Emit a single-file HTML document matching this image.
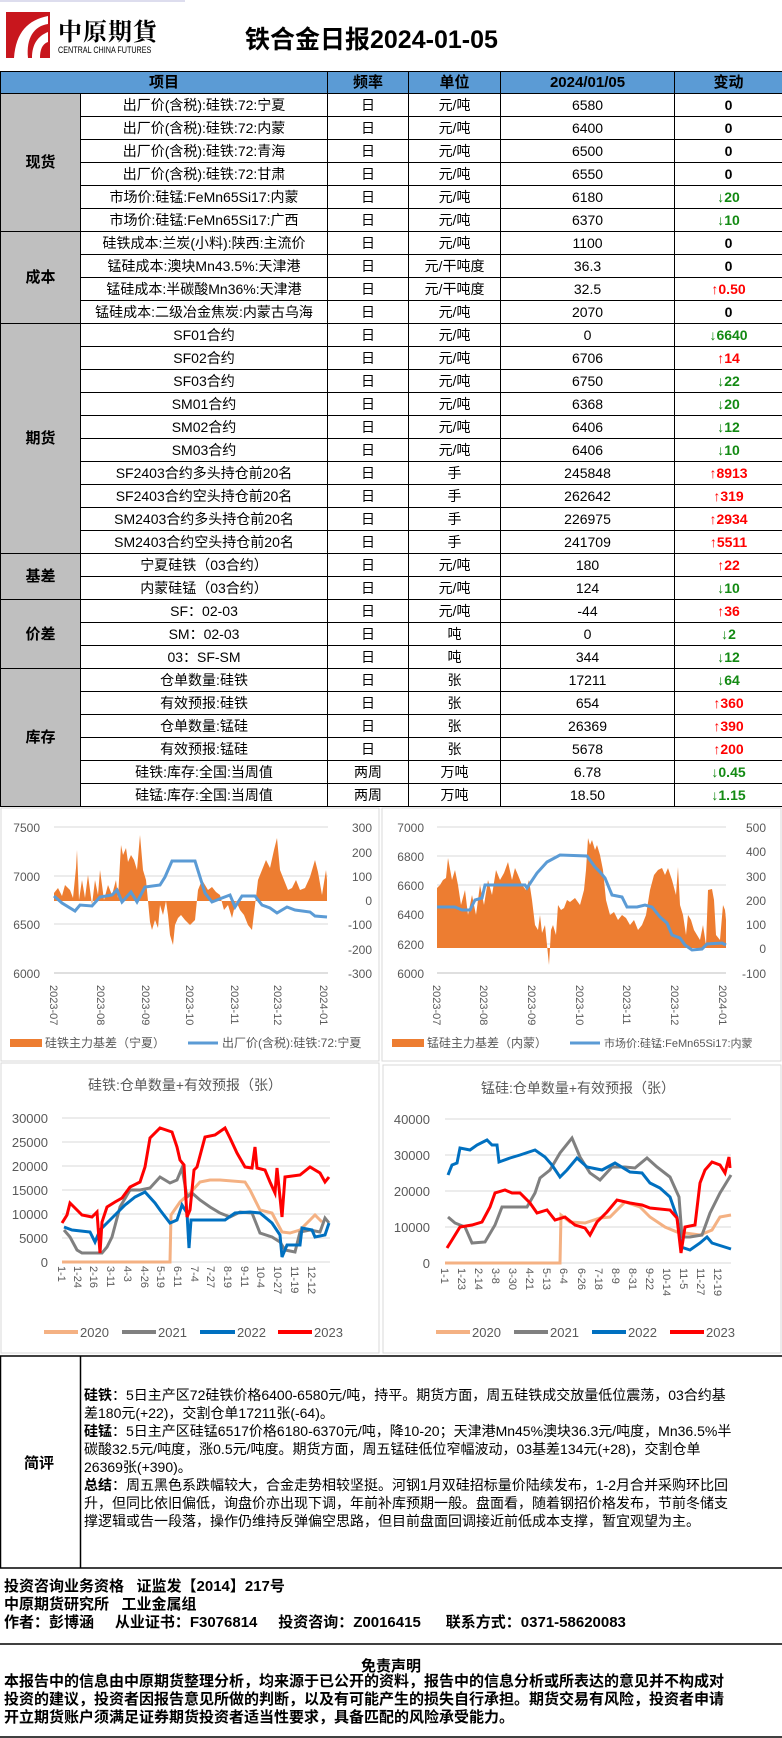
<!DOCTYPE html>
<html><head><meta charset="utf-8">
<style>
*{margin:0;padding:0;box-sizing:border-box}
body{width:782px;height:1738px;background:#fff;font-family:"Liberation Sans","Noto Sans CJK SC",sans-serif;position:relative;overflow:hidden;color:#000}
.abs{position:absolute}
table{border-collapse:collapse;position:absolute;left:0;top:71px;width:782px;table-layout:fixed}
td{border:1px solid #000;height:23px;font-size:14px;text-align:center;white-space:nowrap;overflow:hidden;padding:0;line-height:21px}
tr.h td{background:#5B9BD5;font-weight:bold;height:22px;font-size:15px}
td.c{background:#BFBFBF;font-weight:bold;font-size:15px}
.g{color:#138a13;font-weight:bold}
.r{color:#f00;font-weight:bold}
.b{font-weight:bold}
.txt{font-size:14px;line-height:18px;white-space:nowrap}
</style></head><body>
<!-- header -->
<div class="abs" style="left:0;top:0;width:185px;height:71px;background:#fff;border-top:2px solid #dde"></div>
<svg class="abs" style="left:6px;top:12px" width="44" height="48"><rect x="0" y="0" width="44" height="46" fill="#c8161d"/><path d="M8 46 C10 20 22 8 42 4 L42 12 C28 14 20 26 22 46 Z" fill="#fff"/><path d="M26 46 C26 32 32 24 42 20 L42 30 C36 32 34 38 34 46Z" fill="#fff"/></svg>
<div class="abs b" style="left:58px;top:12px;font-size:24px;letter-spacing:1px;font-family:'Noto Serif CJK SC',serif">中原期貨</div>
<div class="abs" style="left:58px;top:45px;font-size:9px;transform:scaleX(0.8);transform-origin:left">CENTRAL CHINA FUTURES</div>
<div class="abs b" style="left:245px;top:20px;font-size:25px">铁合金日报2024-01-05</div>
<table>
<colgroup><col style="width:80px"><col style="width:247px"><col style="width:81px"><col style="width:92px"><col style="width:174px"><col style="width:108px"></colgroup>
<tr class="h"><td colspan="2">项目</td><td>频率</td><td>单位</td><td>2024/01/05</td><td>变动</td></tr>
<tr><td class="c" rowspan="6">现货</td><td>出厂价(含税):硅铁:72:宁夏</td><td>日</td><td>元/吨</td><td>6580</td><td class="b">0</td></tr>
<tr><td>出厂价(含税):硅铁:72:内蒙</td><td>日</td><td>元/吨</td><td>6400</td><td class="b">0</td></tr>
<tr><td>出厂价(含税):硅铁:72:青海</td><td>日</td><td>元/吨</td><td>6500</td><td class="b">0</td></tr>
<tr><td>出厂价(含税):硅铁:72:甘肃</td><td>日</td><td>元/吨</td><td>6550</td><td class="b">0</td></tr>
<tr><td>市场价:硅锰:FeMn65Si17:内蒙</td><td>日</td><td>元/吨</td><td>6180</td><td class="g">↓20</td></tr>
<tr><td>市场价:硅锰:FeMn65Si17:广西</td><td>日</td><td>元/吨</td><td>6370</td><td class="g">↓10</td></tr>
<tr><td class="c" rowspan="4">成本</td><td>硅铁成本:兰炭(小料):陕西:主流价</td><td>日</td><td>元/吨</td><td>1100</td><td class="b">0</td></tr>
<tr><td>锰硅成本:澳块Mn43.5%:天津港</td><td>日</td><td>元/干吨度</td><td>36.3</td><td class="b">0</td></tr>
<tr><td>锰硅成本:半碳酸Mn36%:天津港</td><td>日</td><td>元/干吨度</td><td>32.5</td><td class="r">↑0.50</td></tr>
<tr><td>锰硅成本:二级冶金焦炭:内蒙古乌海</td><td>日</td><td>元/吨</td><td>2070</td><td class="b">0</td></tr>
<tr><td class="c" rowspan="10">期货</td><td>SF01合约</td><td>日</td><td>元/吨</td><td>0</td><td class="g">↓6640</td></tr>
<tr><td>SF02合约</td><td>日</td><td>元/吨</td><td>6706</td><td class="r">↑14</td></tr>
<tr><td>SF03合约</td><td>日</td><td>元/吨</td><td>6750</td><td class="g">↓22</td></tr>
<tr><td>SM01合约</td><td>日</td><td>元/吨</td><td>6368</td><td class="g">↓20</td></tr>
<tr><td>SM02合约</td><td>日</td><td>元/吨</td><td>6406</td><td class="g">↓12</td></tr>
<tr><td>SM03合约</td><td>日</td><td>元/吨</td><td>6406</td><td class="g">↓10</td></tr>
<tr><td>SF2403合约多头持仓前20名</td><td>日</td><td>手</td><td>245848</td><td class="r">↑8913</td></tr>
<tr><td>SF2403合约空头持仓前20名</td><td>日</td><td>手</td><td>262642</td><td class="r">↑319</td></tr>
<tr><td>SM2403合约多头持仓前20名</td><td>日</td><td>手</td><td>226975</td><td class="r">↑2934</td></tr>
<tr><td>SM2403合约空头持仓前20名</td><td>日</td><td>手</td><td>241709</td><td class="r">↑5511</td></tr>
<tr><td class="c" rowspan="2">基差</td><td>宁夏硅铁（03合约）</td><td>日</td><td>元/吨</td><td>180</td><td class="r">↑22</td></tr>
<tr><td>内蒙硅锰（03合约）</td><td>日</td><td>元/吨</td><td>124</td><td class="g">↓10</td></tr>
<tr><td class="c" rowspan="3">价差</td><td>SF：02-03</td><td>日</td><td>元/吨</td><td>-44</td><td class="r">↑36</td></tr>
<tr><td>SM：02-03</td><td>日</td><td>吨</td><td>0</td><td class="g">↓2</td></tr>
<tr><td>03：SF-SM</td><td>日</td><td>吨</td><td>344</td><td class="g">↓12</td></tr>
<tr><td class="c" rowspan="6">库存</td><td>仓单数量:硅铁</td><td>日</td><td>张</td><td>17211</td><td class="g">↓64</td></tr>
<tr><td>有效预报:硅铁</td><td>日</td><td>张</td><td>654</td><td class="r">↑360</td></tr>
<tr><td>仓单数量:锰硅</td><td>日</td><td>张</td><td>26369</td><td class="r">↑390</td></tr>
<tr><td>有效预报:锰硅</td><td>日</td><td>张</td><td>5678</td><td class="r">↑200</td></tr>
<tr><td>硅铁:库存:全国:当周值</td><td>两周</td><td>万吨</td><td>6.78</td><td class="g">↓0.45</td></tr>
<tr><td>硅锰:库存:全国:当周值</td><td>两周</td><td>万吨</td><td>18.50</td><td class="g">↓1.15</td></tr>
</table>

<svg class="abs" style="left:0;top:0" width="782" height="1738" font-family="Liberation Sans, Noto Sans CJK SC, sans-serif" font-size="12" fill="#595959">
<!-- panel borders -->
<rect x="1" y="808" width="378" height="253" fill="none" stroke="#d9d9d9"/>
<rect x="382" y="808" width="399" height="253" fill="none" stroke="#d9d9d9"/>
<rect x="1" y="1063" width="378" height="290" fill="none" stroke="#d9d9d9"/>
<rect x="383" y="1065" width="398" height="288" fill="none" stroke="#d9d9d9"/>

<!-- chart1 -->
<g stroke="#d9d9d9"><line x1="54" y1="827" x2="328" y2="827"/><line x1="54" y1="876" x2="328" y2="876"/><line x1="54" y1="924" x2="328" y2="924"/><line x1="54" y1="973" x2="328" y2="973"/></g>
<g text-anchor="end"><text x="40" y="832">7500</text><text x="40" y="881">7000</text><text x="40" y="929">6500</text><text x="40" y="978">6000</text></g>
<g text-anchor="end"><text x="372" y="832">300</text><text x="372" y="857">200</text><text x="372" y="881">100</text><text x="372" y="905">0</text><text x="372" y="929">-100</text><text x="372" y="954">-200</text><text x="372" y="978">-300</text></g>
<polygon fill="#ED7D31" points="54,901 54,893 58,888 62,896 65,885 70,890 73,898 76,868 77,850 79,900 82,880 85,898 88,875 92,905 95,880 98,895 100,870 104,900 108,885 112,895 116,880 118,898 121,845 123,855 126,848 128,862 131,855 134,860 137,870 140,835 143,870 146,880 148,901 150,922 152,930 155,920 158,928 160,905 163,915 166,901 168,915 170,935 173,945 175,925 178,918 181,915 185,920 190,925 195,920 198,890 202,880 205,885 208,890 212,887 216,892 220,895 224,910 228,905 232,918 236,901 240,910 244,915 248,925 252,930 256,897 258,880 262,870 266,860 270,868 274,850 277,838 280,870 284,880 288,890 292,888 296,880 300,890 305,888 310,877 315,860 318,872 322,895 326,870 327,880 327,901"/>
<polyline fill="none" stroke="#5B9BD5" stroke-width="3" points="54,896 62,903 75,911 80,905 92,906 100,897 112,895 117,890 122,902 131,892 137,902 145,887 160,885 165,877 172,861 195,861 200,877 205,893 212,902 222,898 230,895 235,907 242,896 255,896 262,905 270,908 277,913 287,907 295,910 310,912 315,916 327,917"/>
<line x1="54" y1="973" x2="328" y2="973" stroke="#bfbfbf"/>
<g font-size="11">
<text transform="translate(50,985) rotate(90)">2023-07</text><text transform="translate(97,985) rotate(90)">2023-08</text><text transform="translate(142,985) rotate(90)">2023-09</text><text transform="translate(186,985) rotate(90)">2023-10</text><text transform="translate(231,985) rotate(90)">2023-11</text><text transform="translate(274,985) rotate(90)">2023-12</text><text transform="translate(320,985) rotate(90)">2024-01</text>
</g>
<rect x="10" y="1039" width="32" height="8" fill="#ED7D31"/><text x="45" y="1047">硅铁主力基差（宁夏）</text>
<line x1="188" y1="1043" x2="218" y2="1043" stroke="#5B9BD5" stroke-width="3"/><text x="222" y="1047">出厂价(含税):硅铁:72:宁夏</text>

<!-- chart2 -->
<g stroke="#d9d9d9"><line x1="437" y1="827" x2="726" y2="827"/><line x1="437" y1="856" x2="726" y2="856"/><line x1="437" y1="885" x2="726" y2="885"/><line x1="437" y1="914" x2="726" y2="914"/><line x1="437" y1="944" x2="726" y2="944"/><line x1="437" y1="973" x2="726" y2="973"/></g>
<g text-anchor="end"><text x="424" y="832">7000</text><text x="424" y="861">6800</text><text x="424" y="890">6600</text><text x="424" y="919">6400</text><text x="424" y="949">6200</text><text x="424" y="978">6000</text></g>
<g text-anchor="end"><text x="766" y="832">500</text><text x="766" y="856">400</text><text x="766" y="881">300</text><text x="766" y="905">200</text><text x="766" y="929">100</text><text x="766" y="953">0</text><text x="766" y="978">-100</text></g>
<polygon fill="#ED7D31" points="437,948 437,888 440,885 443,880 446,878 448,858 452,880 455,870 458,885 461,905 465,890 468,915 472,895 476,915 480,885 484,905 488,880 492,895 496,870 500,880 504,873 508,862 512,880 515,868 518,875 522,885 526,890 529,880 532,900 535,925 538,930 540,915 542,933 545,925 547,945 549,965 551,930 553,925 556,935 558,905 561,910 564,908 567,900 570,902 575,898 580,905 584,890 586,870 588,838 590,845 592,840 595,850 597,845 600,855 603,870 606,900 610,915 614,912 618,920 622,915 626,918 630,925 634,920 638,930 642,925 646,915 650,890 654,875 658,870 662,868 665,875 668,868 672,880 676,895 678,867 680,905 683,915 686,935 688,915 691,920 694,930 697,935 700,940 703,925 706,945 708,890 712,889 714,900 716,935 720,940 723,905 725,910 726,920 726,948"/>
<polyline fill="none" stroke="#5B9BD5" stroke-width="3" points="437,907 455,907 462,910 470,910 475,900 482,898 485,885 525,885 527,888 537,873 547,862 560,855 587,856 595,867 600,872 605,878 612,895 622,897 627,907 637,907 645,905 652,907 660,917 667,923 672,935 680,938 685,945 692,950 702,949 707,944 722,943 726,945"/>
<line x1="437" y1="973" x2="726" y2="973" stroke="#bfbfbf"/>
<g font-size="11">
<text transform="translate(433,985) rotate(90)">2023-07</text><text transform="translate(480,985) rotate(90)">2023-08</text><text transform="translate(528,985) rotate(90)">2023-09</text><text transform="translate(576,985) rotate(90)">2023-10</text><text transform="translate(623,985) rotate(90)">2023-11</text><text transform="translate(671,985) rotate(90)">2023-12</text><text transform="translate(719,985) rotate(90)">2024-01</text>
</g>
<rect x="392" y="1039" width="32" height="8" fill="#ED7D31"/><text x="427" y="1047">锰硅主力基差（内蒙）</text>
<line x1="570" y1="1043" x2="600" y2="1043" stroke="#5B9BD5" stroke-width="3"/><text x="604" y="1047" font-size="11">市场价:硅锰:FeMn65Si17:内蒙</text>

<!-- chart3 -->
<text x="185" y="1090" text-anchor="middle" font-size="14">硅铁:仓单数量+有效预报（张）</text>
<g stroke="#d9d9d9"><line x1="62" y1="1118" x2="330" y2="1118"/><line x1="62" y1="1142" x2="330" y2="1142"/><line x1="62" y1="1166" x2="330" y2="1166"/><line x1="62" y1="1190" x2="330" y2="1190"/><line x1="62" y1="1214" x2="330" y2="1214"/><line x1="62" y1="1238" x2="330" y2="1238"/><line x1="62" y1="1262" x2="330" y2="1262"/></g>
<g text-anchor="end" font-size="13"><text x="48" y="1123">30000</text><text x="48" y="1147">25000</text><text x="48" y="1171">20000</text><text x="48" y="1195">15000</text><text x="48" y="1219">10000</text><text x="48" y="1243">5000</text><text x="48" y="1267">0</text></g>
<g fill="none" stroke-width="3">
<polyline stroke="#F4B183" points="62,1262 170,1262 171,1215 180,1202 190,1193 200,1182 210,1180 220,1180 245,1182 250,1190 260,1210 272,1213 282,1232 290,1233 300,1230 315,1215 322,1222"/>
<polyline stroke="#808080" points="64,1230 70,1237 77,1250 82,1253 102,1253 107,1247 112,1237 120,1207 130,1190 140,1190 150,1188 160,1177 170,1183 177,1180 182,1168 187,1197 192,1193 200,1200 210,1207 220,1213 230,1217 240,1212 252,1213 260,1233 272,1237 280,1242 285,1250 295,1252 300,1232 310,1230 320,1232 325,1218 329,1223"/>
<polyline stroke="#0070C0" points="64,1227 72,1230 90,1232 95,1242 100,1230 107,1223 115,1215 125,1205 135,1197 145,1192 155,1203 160,1210 170,1223 177,1220 182,1205 187,1213 189,1248 191,1220 200,1220 225,1220 235,1213 250,1212 260,1213 272,1223 280,1235 282,1257 287,1245 300,1245 302,1228 312,1230 315,1237 325,1235 329,1223"/>
<polyline stroke="#FF0000" points="62,1223 67,1215 70,1203 75,1208 82,1215 92,1217 97,1212 100,1253 102,1222 107,1207 115,1202 122,1198 130,1187 140,1182 145,1167 150,1138 160,1128 172,1132 177,1147 180,1160 184,1165 187,1217 190,1210 194,1170 197,1167 205,1137 215,1135 225,1128 230,1138 237,1153 245,1167 252,1168 255,1147 257,1168 265,1170 270,1182 275,1193 277,1168 282,1217 285,1177 300,1175 310,1167 320,1173 325,1182 329,1177"/>
</g>
<g font-size="11">
<text transform="translate(58,1266) rotate(90)">1-1</text><text transform="translate(74,1266) rotate(90)">1-24</text><text transform="translate(90,1266) rotate(90)">2-16</text><text transform="translate(107,1266) rotate(90)">3-11</text><text transform="translate(124,1266) rotate(90)">4-3</text><text transform="translate(141,1266) rotate(90)">4-26</text><text transform="translate(157,1266) rotate(90)">5-19</text><text transform="translate(174,1266) rotate(90)">6-11</text><text transform="translate(191,1266) rotate(90)">7-4</text><text transform="translate(207,1266) rotate(90)">7-27</text><text transform="translate(224,1266) rotate(90)">8-19</text><text transform="translate(241,1266) rotate(90)">9-11</text><text transform="translate(257,1266) rotate(90)">10-4</text><text transform="translate(274,1266) rotate(90)">10-27</text><text transform="translate(291,1266) rotate(90)">11-19</text><text transform="translate(308,1266) rotate(90)">12-12</text>
</g>
<g stroke-width="4"><line x1="44" y1="1332" x2="78" y2="1332" stroke="#F4B183"/><line x1="122" y1="1332" x2="156" y2="1332" stroke="#808080"/><line x1="200" y1="1332" x2="235" y2="1332" stroke="#0070C0"/><line x1="278" y1="1332" x2="312" y2="1332" stroke="#FF0000"/></g>
<g font-size="13"><text x="80" y="1337">2020</text><text x="158" y="1337">2021</text><text x="237" y="1337">2022</text><text x="314" y="1337">2023</text></g>

<!-- chart4 -->
<text x="578" y="1093" text-anchor="middle" font-size="14">锰硅:仓单数量+有效预报（张）</text>
<g stroke="#d9d9d9"><line x1="445" y1="1119" x2="731" y2="1119"/><line x1="445" y1="1155" x2="731" y2="1155"/><line x1="445" y1="1191" x2="731" y2="1191"/><line x1="445" y1="1227" x2="731" y2="1227"/><line x1="445" y1="1263" x2="731" y2="1263"/></g>
<g text-anchor="end" font-size="13"><text x="430" y="1124">40000</text><text x="430" y="1160">30000</text><text x="430" y="1196">20000</text><text x="430" y="1232">10000</text><text x="430" y="1268">0</text></g>
<g fill="none" stroke-width="3">
<polyline stroke="#F4B183" points="445,1263 560,1263 561,1215 570,1222 585,1223 600,1218 610,1217 625,1202 640,1207 650,1217 665,1227 677,1232 685,1233 700,1235 712,1230 720,1217 731,1215"/>
<polyline stroke="#808080" points="448,1217 455,1223 465,1227 472,1243 485,1242 495,1225 502,1207 515,1207 527,1207 535,1193 540,1178 550,1170 560,1153 572,1138 580,1157 590,1173 600,1180 612,1167 625,1167 635,1168 647,1158 657,1167 670,1177 679,1197 682,1237 690,1237 702,1235 710,1213 720,1193 731,1175"/>
<polyline stroke="#0070C0" points="448,1175 452,1165 457,1163 460,1148 470,1150 477,1145 487,1140 492,1145 497,1145 499,1162 510,1158 520,1155 535,1150 545,1157 552,1165 560,1177 567,1170 577,1158 587,1167 602,1170 615,1163 630,1172 642,1173 650,1183 660,1188 670,1197 677,1217 681,1247 690,1250 700,1243 707,1237 712,1243 731,1249"/>
<polyline stroke="#FF0000" points="447,1248 452,1240 460,1227 472,1225 482,1222 490,1207 495,1193 505,1190 512,1193 520,1193 530,1203 537,1213 547,1210 555,1220 565,1217 575,1225 585,1228 590,1235 597,1222 607,1212 617,1200 630,1203 642,1205 650,1208 670,1210 677,1218 681,1253 685,1227 695,1225 700,1183 705,1170 712,1162 720,1165 725,1173 729,1157 730,1168"/>
</g>
<g font-size="11">
<text transform="translate(441,1268) rotate(90)">1-1</text><text transform="translate(458,1268) rotate(90)">1-23</text><text transform="translate(475,1268) rotate(90)">2-14</text><text transform="translate(492,1268) rotate(90)">3-8</text><text transform="translate(509,1268) rotate(90)">3-30</text><text transform="translate(526,1268) rotate(90)">4-21</text><text transform="translate(543,1268) rotate(90)">5-13</text><text transform="translate(560,1268) rotate(90)">6-4</text><text transform="translate(578,1268) rotate(90)">6-26</text><text transform="translate(595,1268) rotate(90)">7-18</text><text transform="translate(612,1268) rotate(90)">8-9</text><text transform="translate(629,1268) rotate(90)">8-31</text><text transform="translate(646,1268) rotate(90)">9-22</text><text transform="translate(663,1268) rotate(90)">10-14</text><text transform="translate(680,1268) rotate(90)">11-5</text><text transform="translate(697,1268) rotate(90)">11-27</text><text transform="translate(714,1268) rotate(90)">12-19</text>
</g>
<g stroke-width="4"><line x1="436" y1="1332" x2="470" y2="1332" stroke="#F4B183"/><line x1="514" y1="1332" x2="548" y2="1332" stroke="#808080"/><line x1="592" y1="1332" x2="626" y2="1332" stroke="#0070C0"/><line x1="670" y1="1332" x2="704" y2="1332" stroke="#FF0000"/></g>
<g font-size="13"><text x="472" y="1337">2020</text><text x="550" y="1337">2021</text><text x="628" y="1337">2022</text><text x="706" y="1337">2023</text></g>

<!-- comment box borders -->
<g stroke="#000" stroke-width="1.5" fill="none">
<line x1="0" y1="1356" x2="782" y2="1356"/>
<line x1="80.5" y1="1356" x2="80.5" y2="1568"/>
<line x1="0" y1="1568" x2="782" y2="1568"/>
<line x1="0" y1="1644" x2="782" y2="1644"/>
<line x1="0" y1="1737" x2="782" y2="1737"/>
<line x1="0.5" y1="1356" x2="0.5" y2="1568"/>
</g>
</svg>

<div class="abs b" style="left:24px;top:1452px;font-size:15px">简评</div>
<div class="abs txt" style="left:84px;top:1386px">
<b>硅铁</b>：5日主产区72硅铁价格6400-6580元/吨，持平。期货方面，周五硅铁成交放量低位震荡，03合约基<br>
差180元(+22)，交割仓单17211张(-64)。<br>
<b>硅锰</b>：5日主产区硅锰6517价格6180-6370元/吨，降10-20；天津港Mn45%澳块36.3元/吨度，Mn36.5%半<br>
碳酸32.5元/吨度，涨0.5元/吨度。期货方面，周五锰硅低位窄幅波动，03基差134元(+28)，交割仓单<br>
26369张(+390)。<br>
<b>总结</b>：周五黑色系跌幅较大，合金走势相较坚挺。河钢1月双硅招标量价陆续发布，1-2月合并采购环比回<br>
升，但同比依旧偏低，询盘价亦出现下调，年前补库预期一般。盘面看，随着钢招价格发布，节前冬储支<br>
撑逻辑或告一段落，操作仍维持反弹偏空思路，但目前盘面回调接近前低成本支撑，暂宜观望为主。
</div>
<div class="abs b" style="left:4px;top:1578px;font-size:15px;line-height:18px;white-space:pre">投资咨询业务资格   证监发【2014】217号
中原期货研究所   工业金属组
作者：彭博涵     从业证书：F3076814     投资咨询：Z0016415      联系方式：0371-58620083</div>
<div class="abs b" style="left:0;width:782px;top:1655px;font-size:15px;text-align:center">免责声明</div>
<div class="abs b" style="left:4px;top:1673px;font-size:15px;line-height:18px;white-space:nowrap">本报告中的信息由中原期货整理分析，均来源于已公开的资料，报告中的信息分析或所表达的意见并不构成对<br>投资的建议，投资者因报告意见所做的判断，以及有可能产生的损失自行承担。期货交易有风险，投资者申请<br>开立期货账户须满足证券期货投资者适当性要求，具备匹配的风险承受能力。</div>
</body></html>
